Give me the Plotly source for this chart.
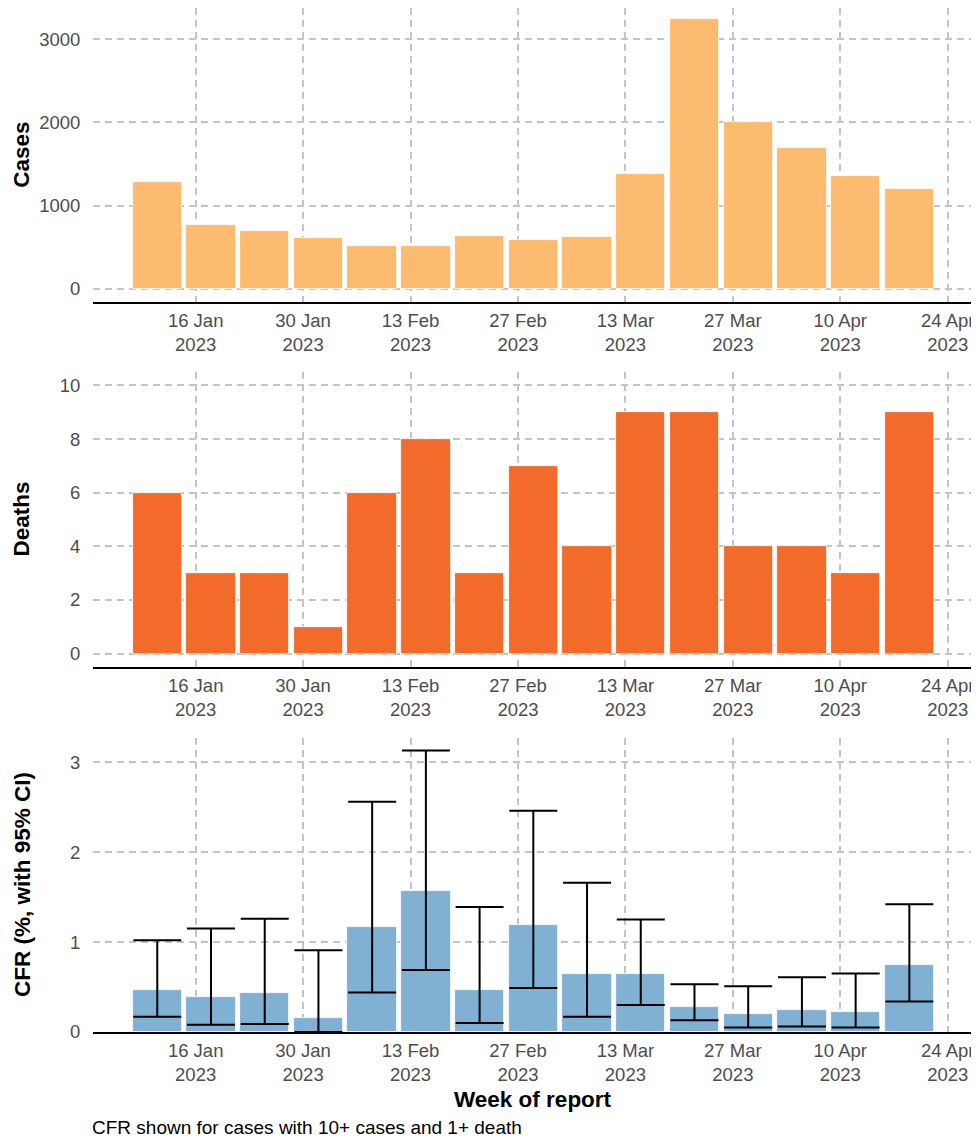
import plotly.graph_objects as go
import pandas as pd

# ---- data ----
weeks = pd.date_range("2023-01-11", periods=15, freq="7D")
cases = [1280, 770, 700, 615, 515, 510, 640, 590, 625, 1375, 3240, 2010, 1690, 1360, 1200]
deaths = [6, 3, 3, 1, 6, 8, 3, 7, 4, 9, 9, 4, 4, 3, 9]
cfr = [0.47, 0.39, 0.43, 0.16, 1.17, 1.57, 0.47, 1.19, 0.64, 0.65, 0.28, 0.20, 0.24, 0.22, 0.75]
cfr_low = [0.17, 0.08, 0.09, 0.00, 0.44, 0.69, 0.10, 0.49, 0.17, 0.30, 0.13, 0.05, 0.06, 0.05, 0.34]
cfr_high = [1.02, 1.15, 1.26, 0.91, 2.56, 3.13, 1.39, 2.46, 1.66, 1.25, 0.53, 0.51, 0.61, 0.65, 1.42]

tick_dates = ["2023-01-16", "2023-01-30", "2023-02-13", "2023-02-27",
              "2023-03-13", "2023-03-27", "2023-04-10", "2023-04-24"]
tick_text = ["16 Jan<br>2023", "30 Jan<br>2023", "13 Feb<br>2023", "27 Feb<br>2023",
             "13 Mar<br>2023", "27 Mar<br>2023", "10 Apr<br>2023", "24 Apr<br>2023"]

cases_ticks = [0, 1000, 2000, 3000]
deaths_ticks = [0, 2, 4, 6, 8, 10]
cfr_ticks = [0, 1, 2, 3]

COL_CASES = "#FDBB6F"
COL_DEATHS = "#F26B2B"
COL_CFR = "#80B1D3"

FONT = "Liberation Sans, Arial, sans-serif"
bar_w = 6.43 * 86400000

err_plus = [h - v for h, v in zip(cfr_high, cfr)]
err_minus = [v - l for v, l in zip(cfr, cfr_low)]

fig = go.Figure()
fig.add_trace(go.Bar(x=weeks, y=cases, width=bar_w, marker=dict(color=COL_CASES, line=dict(color="white", width=0.8)),
                     xaxis="x", yaxis="y", showlegend=False))
fig.add_trace(go.Bar(x=weeks, y=deaths, width=bar_w, marker=dict(color=COL_DEATHS, line=dict(color="white", width=0.8)),
                     xaxis="x2", yaxis="y2", showlegend=False))
fig.add_trace(go.Bar(x=weeks, y=cfr, width=bar_w, marker=dict(color=COL_CFR, line=dict(color="white", width=0.8)),
                     error_y=dict(type="data", array=err_plus, arrayminus=err_minus, symmetric=False,
                                  color="black", thickness=2, width=24),
                     xaxis="x3", yaxis="y3", showlegend=False))

xrange = ["2023-01-02 15:00", "2023-04-27 07:00"]
grid = dict(showgrid=True, gridcolor="#C4C4C4", gridwidth=1.5, griddash="7px,5px")

def xax(anchor):
    return dict(anchor=anchor, type="date", range=xrange, tickmode="array", automargin=False,
                tickvals=tick_dates, ticktext=tick_text, showline=True, linecolor="black",
                linewidth=2, zeroline=False, ticks="outside", ticklen=1, tickcolor="rgba(0,0,0,0)",
                tickfont=dict(family=FONT, size=18.5, color="#4D4D4D"), **grid)

def yax(anchor, domain, rng, tv):
    return dict(anchor=anchor, domain=domain, range=rng, tickmode="array", tickvals=tv,
                automargin=False, showline=False, zeroline=False, ticks="outside", ticklen=8,
                tickcolor="rgba(0,0,0,0)",
                tickfont=dict(family=FONT, size=18.5, color="#4D4D4D"), **grid)

# page body has an 8px default margin, so the figure is sized to fit inside it
fig.update_layout(
    width=971, height=1133,
    margin=dict(l=85, r=6, t=0, b=109),
    plot_bgcolor="white", paper_bgcolor="white",
    bargap=0,
    xaxis=xax("y"), xaxis2=xax("y2"), xaxis3=xax("y3"),
    yaxis=yax("x", [0.7132, 1.0], [-156, 3377], cases_ticks),
    yaxis2=yax("x2", [0.3564, 0.6445], [-0.5, 10.5], deaths_ticks),
    yaxis3=yax("x3", [0.0, 0.2871], [0, 3.27], cfr_ticks),
    font=dict(family=FONT),
)

titles = [("Cases", "y domain"), ("Deaths", "y2 domain"), ("CFR (%, with 95% CI)", "y3 domain")]
for txt, yref in titles:
    fig.add_annotation(text="<b>%s</b>" % txt, xref="paper", x=0, xshift=-71, xanchor="center",
                       yref=yref, y=0.5, yanchor="middle", textangle=-90, showarrow=False,
                       font=dict(family=FONT, size=22.5, color="black"))

fig.add_annotation(text="<b>Week of report</b>", xref="paper", x=0.5, xanchor="center",
                   yref="paper", y=0, yshift=-67, yanchor="middle", showarrow=False,
                   font=dict(family=FONT, size=22.5, color="black"))
fig.add_annotation(text="CFR shown for cases with 10+ cases and 1+ death", xref="paper", x=0,
                   xanchor="left", xshift=-3, yref="paper", y=0, yshift=-95, yanchor="middle",
                   showarrow=False, font=dict(family=FONT, size=19, color="black"))

fig.write_html("out.html")
